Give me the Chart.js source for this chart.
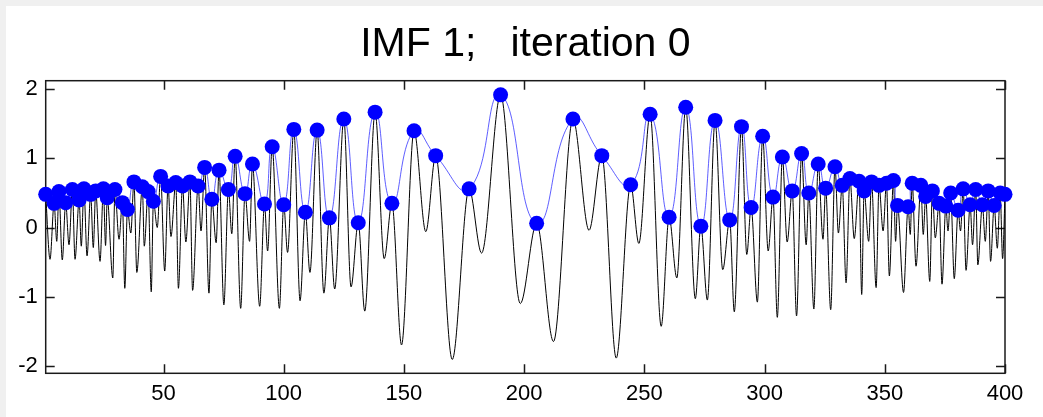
<!DOCTYPE html>
<html>
<head>
<meta charset="utf-8">
<script src="https://cdn.jsdelivr.net/npm/chart.js@4.4.1/dist/chart.umd.min.js"></script>
<style>
  html, body { margin: 0; padding: 0; background: #f0f0f0; }
  #wrap { position: absolute; left: 6px; top: 6px; width: 1037px; height: 411px; background: #fff; }
</style>
</head>
<body>
<div id="wrap"><canvas id="chartImf" width="1037" height="411"></canvas></div>
<script>
// maxima of the signal (blue dots + envelope)
const maxX = [1, 4.5, 6.5, 9.3, 12.1, 14.9, 16.9, 19.7, 21.8, 25, 26.6, 29.8, 32.9, 35, 37.7, 41.2, 43.6, 45.8, 48.8, 51.9,
    55.1, 57.9, 61, 64.4, 67.1, 70.1, 73.1, 77, 79.8, 83.9, 87, 92, 95.2, 100, 104.2, 109, 113.9, 119, 125, 131,
    138, 145, 154.2, 163.2, 177.1, 190.2, 205.2, 220.3, 232.3, 244.3, 252.4, 260.3, 267.2, 273.5, 279.4, 285.5, 290.4, 294.4, 299.2, 303.5,
    307.4, 311.5, 315.4, 318.4, 322.3, 325.4, 329.3, 332.3, 335.5, 339.3, 341.4, 344.5, 347.6, 350.7, 353.6, 355.3, 359.7, 361.4, 365, 367,
    369.8, 372.6, 375.4, 377.4, 380.5, 382.6, 385.5, 387.8, 390.6, 393, 395.5, 398, 400];
const maxY = [0.48, 0.35, 0.52, 0.36, 0.55, 0.40, 0.56, 0.48, 0.53, 0.56, 0.43, 0.55, 0.36, 0.26, 0.66, 0.59, 0.52, 0.38, 0.74, 0.60,
    0.65, 0.60, 0.66, 0.60, 0.87, 0.41, 0.83, 0.55, 1.03, 0.49, 0.92, 0.34, 1.17, 0.33, 1.42, 0.22, 1.41, 0.14, 1.57, 0.07,
    1.67, 0.35, 1.40, 1.04, 0.56, 1.92, 0.06, 1.57, 1.04, 0.62, 1.64, 0.15, 1.74, 0.02, 1.55, 0.11, 1.46, 0.29, 1.32, 0.44,
    1.02, 0.53, 1.07, 0.50, 0.92, 0.57, 0.88, 0.61, 0.71, 0.67, 0.53, 0.66, 0.61, 0.64, 0.68, 0.32, 0.30, 0.64, 0.61, 0.45,
    0.53, 0.35, 0.31, 0.50, 0.25, 0.56, 0.33, 0.55, 0.33, 0.53, 0.32, 0.50, 0.48];

// minima of the signal
const minX = [2.8, 5.6, 7.9, 10.7, 13.2, 15.8, 18.2, 20.8, 23.6, 25.9, 28.9, 31.5, 33.9, 36.4, 38.9, 42, 44.9, 47.4, 50.5, 53.1,
    56.2, 59.3, 62.1, 65.6, 68.9, 71.9, 75.1, 78.4, 82.1, 85.8, 90, 93.3, 98.2, 101.6, 106.8, 110.9, 116.7, 121.2, 128, 133.7,
    141.8, 149, 159.1, 170.1, 182.3, 198.4, 212.2, 227, 238.3, 247.7, 257, 263.5, 271.2, 276.2, 282.6, 287.4, 292.6, 297, 301.5, 305.3,
    309.4, 313.3, 317.3, 320.5, 324.3, 327.5, 330.7, 333.9, 337.3, 340.4, 343.3, 346.4, 349.3, 351.9, 354.5, 357.8, 360.6, 363, 366, 368.7,
    371, 373.8, 376.3, 378.9, 381.5, 383.8, 386.5, 388.7, 391.8, 394, 396.8, 399];
const minY = [-0.46, -0.20, -0.47, -0.25, -0.46, -0.27, -0.41, -0.29, -0.49, -0.26, -0.73, -0.17, -0.88, -0.08, -0.65, -0.27, -0.93, 0.00, -0.63, -0.13,
    -0.88, -0.21, -0.91, -0.05, -0.95, -0.22, -1.12, -0.09, -1.17, -0.20, -1.14, -0.34, -1.17, -0.36, -1.06, -0.65, -0.95, -0.89, -0.86, -1.21,
    -0.45, -1.70, -0.06, -1.91, -0.37, -1.10, -1.65, -0.04, -1.89, -0.23, -1.43, -0.73, -1.03, -1.05, -0.61, -1.22, -0.39, -1.08, -0.34, -1.30,
    -0.21, -1.28, -0.25, -1.18, -0.17, -1.19, -0.08, -0.80, -0.16, -0.97, -0.20, -0.87, -0.05, -0.70, -0.20, -0.94, -0.10, -0.56, -0.10, -0.78,
    -0.15, -0.82, -0.05, -0.74, -0.05, -0.62, -0.25, -0.54, -0.20, -0.49, -0.30, -0.45];

const xTickVals = [50, 100, 150, 200, 250, 300, 350, 400];
const yTickVals = [-2, -1, 0, 1, 2];

const maxima = maxX.map((x, i) => ({ x: x, y: maxY[i] }));
const signal = maxima.concat(minX.map((x, i) => ({ x: x, y: minY[i] })))
    .sort((a, b) => a.x - b.x);

// marco tipo MATLAB con marcas hacia dentro
const marcoPlugin = {
    id: 'marco',
    beforeDatasetsDraw(chart) {
        const { ctx, chartArea: a, scales } = chart;
        const len = 9;
        ctx.save();
        ctx.strokeStyle = '#1a1a1a';
        ctx.lineWidth = 1.5;
        ctx.beginPath();
        xTickVals.forEach(v => {
            const px = Math.round(scales.x.getPixelForValue(v)) + 0.5;
            ctx.moveTo(px, a.bottom); ctx.lineTo(px, a.bottom - len);
            ctx.moveTo(px, a.top); ctx.lineTo(px, a.top + len);
        });
        yTickVals.forEach(v => {
            const py = Math.round(scales.y.getPixelForValue(v)) + 0.5;
            ctx.moveTo(a.left, py); ctx.lineTo(a.left + len, py);
            ctx.moveTo(a.right, py); ctx.lineTo(a.right - len, py);
        });
        ctx.stroke();
        ctx.strokeRect(a.left, a.top, a.right - a.left, a.bottom - a.top);
        ctx.restore();
    }
};

Chart.defaults.font.family = '"Liberation Sans", Arial, sans-serif';
Chart.defaults.color = '#000';

new Chart(document.getElementById('chartImf').getContext('2d'), {
    type: 'line',
    data: {
        datasets: [{
            label: 'maximos',
            data: maxima,
            borderColor: 'rgba(40, 40, 255, 0.75)',
            borderWidth: 1,
            backgroundColor: '#0000ff',
            pointBackgroundColor: '#0000ff',
            pointBorderColor: '#0000ff',
            pointRadius: 7.5,
            pointBorderWidth: 0,
            tension: 0.5,
            clip: false,
            order: 1
        }, {
            label: 'senal',
            data: signal,
            borderColor: '#000',
            borderWidth: 1,
            pointRadius: 0,
            cubicInterpolationMode: 'monotone',
            order: 2
        }]
    },
    options: {
        responsive: false,
        animation: false,
        events: [],
        devicePixelRatio: 1,
        layout: { padding: { left: 0, right: 38, top: 0, bottom: 0 } },
        scales: {
            x: {
                type: 'linear',
                min: 1,
                max: 400,
                grid: { display: false, drawTicks: false },
                border: { display: false },
                afterBuildTicks: s => { s.ticks = xTickVals.map(v => ({ value: v })); },
                afterFit: s => { s.height = 43.7; },
                ticks: { font: { size: 22 }, padding: 7, maxRotation: 0, autoSkip: false }
            },
            y: {
                type: 'linear',
                min: -2.11,
                max: 2.125,
                grid: { display: false, drawTicks: false },
                border: { display: false },
                afterBuildTicks: s => { s.ticks = yTickVals.map(v => ({ value: v })); },
                afterFit: s => { s.width = 39.7; },
                ticks: { font: { size: 22 }, padding: 8 }
            }
        },
        plugins: {
            legend: { display: false },
            tooltip: { enabled: false },
            title: {
                display: true,
                fullSize: false,
                text: 'IMF 1;   iteration 0',
                color: '#000',
                font: { size: 41, weight: 'normal' },
                padding: { top: 14, bottom: 11.5 }
            }
        }
    },
    plugins: [marcoPlugin]
});
</script>
</body>
</html>
